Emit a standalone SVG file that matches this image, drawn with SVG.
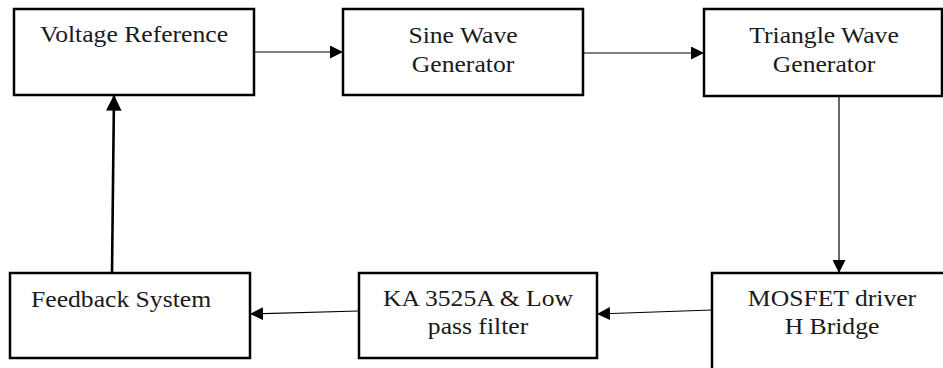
<svg xmlns="http://www.w3.org/2000/svg" width="943" height="368" viewBox="0 0 943 368">
  <style>
    .box { fill: #fff; stroke: #000; stroke-width: 2.5; }
    .lbl { font-family: "Liberation Serif", "Times New Roman", serif; font-size: 22.5px; fill: #1a1a1a; }
    .mid { text-anchor: middle; }
    .wire { stroke: #000; stroke-width: 1.2; fill: none; }
    .wire.bold { stroke-width: 2.6; }
  </style>
  <defs>
    <marker id="arrow" viewBox="0 0 10 10" refX="10" refY="5" markerWidth="13" markerHeight="13" markerUnits="userSpaceOnUse" orient="auto">
      <path d="M0,0 L10,5 L0,10 Z" fill="#000"/>
    </marker>
    <marker id="arrowBold" viewBox="0 0 10 10" refX="10" refY="5" markerWidth="6" markerHeight="6" orient="auto">
      <path d="M0,0 L10,5 L0,10 Z" fill="#000"/>
    </marker>
  </defs>

  <!-- labels are set in a slightly widened serif -->
  <g id="voltage-reference">
    <rect class="box" x="14" y="9" width="240" height="86"/>
    <text class="lbl mid" transform="translate(134 42) scale(1.14 1)">Voltage Reference</text>
  </g>

  <g id="sine-wave-generator">
    <rect class="box" x="343" y="9" width="240" height="86"/>
    <text class="lbl mid" transform="translate(463 43) scale(1.14 1)">Sine Wave</text>
    <text class="lbl mid" transform="translate(463 72) scale(1.14 1)">Generator</text>
  </g>

  <g id="triangle-wave-generator">
    <rect class="box" x="704" y="9" width="238" height="87"/>
    <text class="lbl mid" transform="translate(824 43) scale(1.14 1)">Triangle Wave</text>
    <text class="lbl mid" transform="translate(824 72) scale(1.14 1)">Generator</text>
  </g>

  <g id="mosfet-driver">
    <rect class="box" x="712" y="273" width="240" height="110"/>
    <text class="lbl mid" transform="translate(832 306) scale(1.14 1)">MOSFET driver</text>
    <text class="lbl mid" transform="translate(832 334) scale(1.14 1)">H Bridge</text>
  </g>

  <g id="ka3525a-filter">
    <rect class="box" x="359" y="273" width="238" height="85"/>
    <text class="lbl mid" transform="translate(478 306) scale(1.14 1)">KA 3525A &amp; Low</text>
    <text class="lbl mid" transform="translate(478 334) scale(1.14 1)">pass filter</text>
  </g>

  <g id="feedback-system">
    <rect class="box" x="10" y="273" width="240" height="85"/>
    <text class="lbl" transform="translate(31 307) scale(1.14 1)">Feedback System</text>
  </g>

  <g id="connectors">
    <line class="wire" x1="254" y1="52" x2="343" y2="52" marker-end="url(#arrow)"/>
    <line class="wire" x1="583" y1="53" x2="704" y2="53" marker-end="url(#arrow)"/>
    <line class="wire" x1="839" y1="96" x2="839" y2="273" marker-end="url(#arrow)"/>
    <line class="wire" x1="712" y1="310" x2="597" y2="314" marker-end="url(#arrow)"/>
    <line class="wire" x1="359" y1="311" x2="250" y2="314" marker-end="url(#arrow)"/>
    <line class="wire bold" x1="112" y1="273" x2="114" y2="95" marker-end="url(#arrowBold)"/>
  </g>
</svg>
